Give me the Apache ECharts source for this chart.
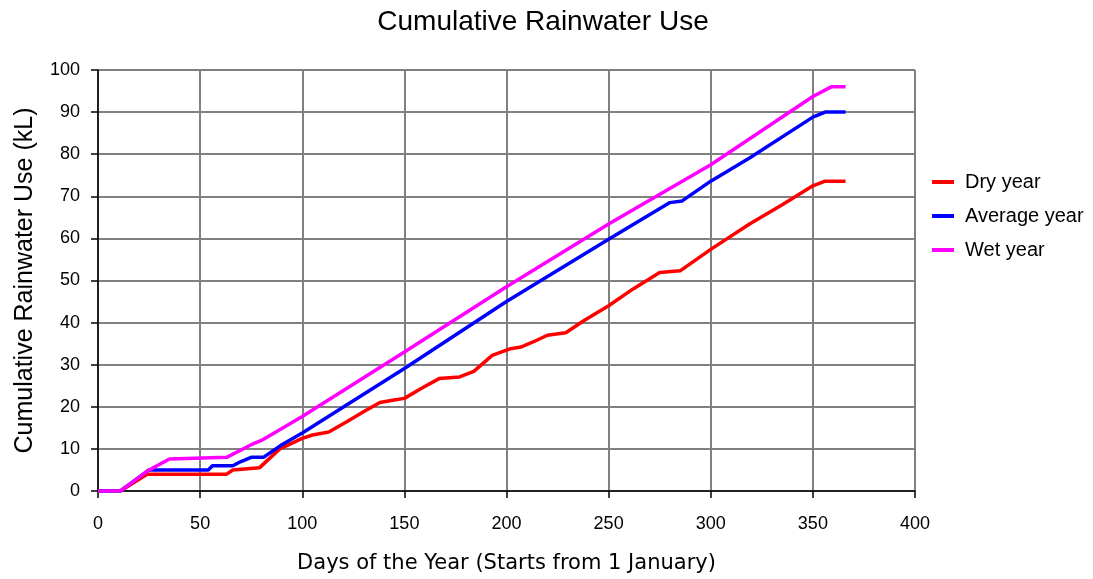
<!DOCTYPE html>
<html>
<head>
<meta charset="utf-8">
<script src="https://cdn.jsdelivr.net/npm/echarts@6/dist/echarts.min.js"></script>
<style>html,body{margin:0;padding:0;background:#fff;}#c{width:1093px;height:579px;}</style>
</head>
<body>
<div id="c"></div>
<script>
const seriesNames = ['Dry year', 'Average year', 'Wet year'];
const dryYear = [[0,0],[11,0],[24,4],[63,4],[66,5],[79,5.5],[89,10],[100,12.5],[105,13.3],[113,14],[122,16.5],[130,18.8],[138,21],[145,21.6],[150,22],[158,24.3],[167,26.7],[177,27.1],[184,28.4],[193,32.2],[202,33.8],[207,34.2],[213,35.4],[220,37],[229,37.6],[238,40.5],[250,44],[262,48],[275,51.9],[285,52.3],[300,57.4],[319,63.4],[335,68],[350,72.5],[356,73.6],[366,73.6]];
const averageYear = [[0,0],[11,0],[25,5],[54,5],[56,6],[66,6],[70,7],[75,8],[81,8],[90,11],[100,13.8],[150,29.1],[200,45],[250,59.8],[280,68.5],[286,68.9],[300,73.6],[319,79.1],[350,88.8],[356,90],[366,90]];
const wetYear = [[0,0],[11,0],[25,5],[35,7.6],[63,8],[75,11],[80,12],[100,17.7],[150,33],[200,48.5],[250,63.4],[300,77.5],[350,93.7],[359,96],[366,96]];
const colors = ['#ff0000', '#0000ff', '#ff00ff'];

const chart = echarts.init(document.getElementById('c'), null, {renderer: 'canvas'});
const font = 'Liberation Sans, Arial, sans-serif';
chart.setOption({
  animation: false,
  backgroundColor: '#ffffff',
  title: {
    text: 'Cumulative Rainwater Use',
    left: 538, top: 3, textAlign: 'center',
    textStyle: {fontFamily: font, fontSize: 28, fontWeight: 'normal', color: '#000'}
  },
  legend: {
    orient: 'vertical', left: 932, top: 172, padding: 0,
    itemWidth: 22, itemHeight: 4, itemGap: 14,
    icon: 'rect',
    textStyle: {fontFamily: font, fontSize: 20, color: '#000', padding: [0,0,0,6]},
    data: seriesNames
  },
  grid: {left: 98, right: 178, top: 70, bottom: 86, containLabel: false},
  xAxis: {
    type: 'value', min: 0, max: 400, interval: 50,
    name: 'Days of the Year (Starts from 1 January)',
    nameLocation: 'middle', nameGap: 62,
    nameTextStyle: {fontFamily: 'DejaVu Sans, sans-serif', fontSize: 21, color: '#000'},
    axisLine: {show: true, lineStyle: {color: '#000', width: 1.5}},
    axisTick: {show: true, length: 7, lineStyle: {color: '#000', width: 1.5}},
    axisLabel: {fontFamily: font, fontSize: 18, color: '#000', margin: 24},
    splitLine: {show: true, lineStyle: {color: '#808080', width: 2}}
  },
  yAxis: {
    type: 'value', min: 0, max: 100, interval: 10,
    name: 'Cumulative Rainwater Use (kL)',
    nameLocation: 'middle', nameGap: 60,
    nameTextStyle: {fontFamily: font, fontSize: 25, color: '#000'},
    axisLine: {show: true, lineStyle: {color: '#000', width: 1.5}},
    axisTick: {show: true, length: 7, lineStyle: {color: '#000', width: 1.5}},
    axisLabel: {fontFamily: font, fontSize: 18, color: '#000', margin: 18},
    splitLine: {show: true, lineStyle: {color: '#808080', width: 2}}
  },
  series: [dryYear, averageYear, wetYear].map((d, i) => ({
    name: seriesNames[i], type: 'line', data: d,
    showSymbol: false, symbol: 'none',
    lineStyle: {color: colors[i], width: 3.5},
    itemStyle: {color: colors[i]}
  }))
});
</script>
</body>
</html>
